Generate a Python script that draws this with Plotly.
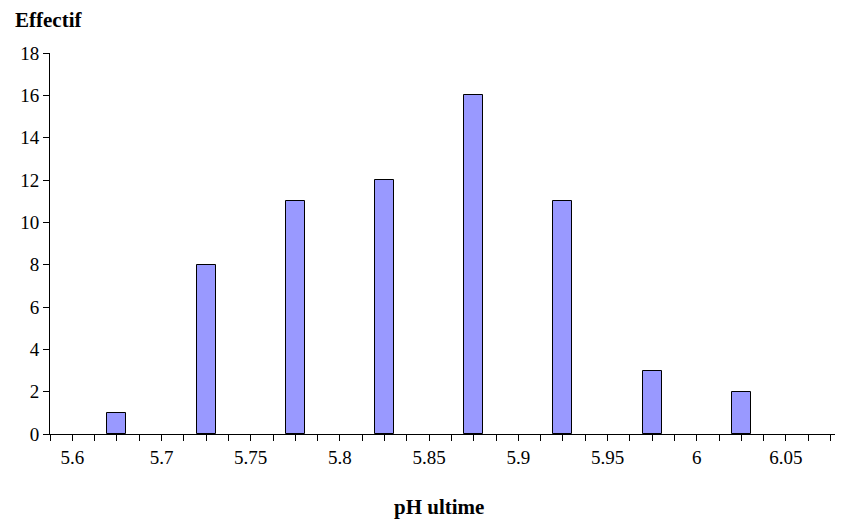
import plotly.graph_objects as go

# Data
ph_centers = [5.675, 5.725, 5.775, 5.825, 5.875, 5.925, 5.975, 6.025]
effectif = [1, 8, 11, 12, 16, 11, 3, 2]
label_vals = [5.65, 5.70, 5.75, 5.80, 5.85, 5.90, 5.95, 6.00, 6.05]
label_text = ["5.6", "5.7", "5.75", "5.8", "5.85", "5.9", "5.95", "6", "6.05"]
tick_start, tick_step, n_ticks = 5.6375, 0.0125, 36

tick_vals = [round(tick_start + i * tick_step, 4) for i in range(n_ticks)]
lab = {round(v, 4): t for v, t in zip(label_vals, label_text)}
tick_text = [lab.get(v, "") for v in tick_vals]

FONT = "Liberation Serif"
TICKFONT = dict(family=FONT, size=19, color="black")

fig = go.Figure()
fig.add_trace(go.Bar(
    x=ph_centers, y=effectif,
    width=0.0106,
    marker=dict(color="#9999FF", line=dict(color="black", width=1)),
))

W, H = 835, 512
L, T, B = 42, 45, 86
PW, PH = W - L, H - T - B

fig.update_layout(
    template="none",
    width=W, height=H,
    margin=dict(l=L, r=0, t=T, b=B),
    plot_bgcolor="white", paper_bgcolor="white",
    showlegend=False,
    font=dict(family=FONT, size=19, color="black"),
    bargap=0,
    xaxis=dict(
        range=[5.6375, 6.082],
        tickmode="array", tickvals=tick_vals, ticktext=tick_text,
        tickfont=TICKFONT,
        ticks="outside", ticklen=6, tickwidth=1, tickcolor="black",
        showline=True, linecolor="black", linewidth=1,
        showgrid=False, zeroline=False,
    ),
    yaxis=dict(
        range=[0, 18], tickvals=list(range(0, 19, 2)),
        tickfont=TICKFONT,
        ticks="outside", ticklen=6, tickwidth=1, tickcolor="black",
        showline=True, linecolor="black", linewidth=1,
        showgrid=False, zeroline=False,
    ),
    annotations=[
        dict(text="<b>Effectif</b>", xref="paper", yref="paper",
             x=(5 - L) / PW, y=1 + (45 - 12) / PH, xanchor="left", yanchor="middle",
             showarrow=False, font=dict(family=FONT, size=21, color="black")),
        dict(text="<b>pH ultime</b>", xref="paper", yref="paper",
             x=(431 - L) / PW, y=-(499 - 426) / PH, xanchor="center", yanchor="middle",
             showarrow=False, font=dict(family=FONT, size=21, color="black")),
    ],
)

fig.write_html("out.html")
